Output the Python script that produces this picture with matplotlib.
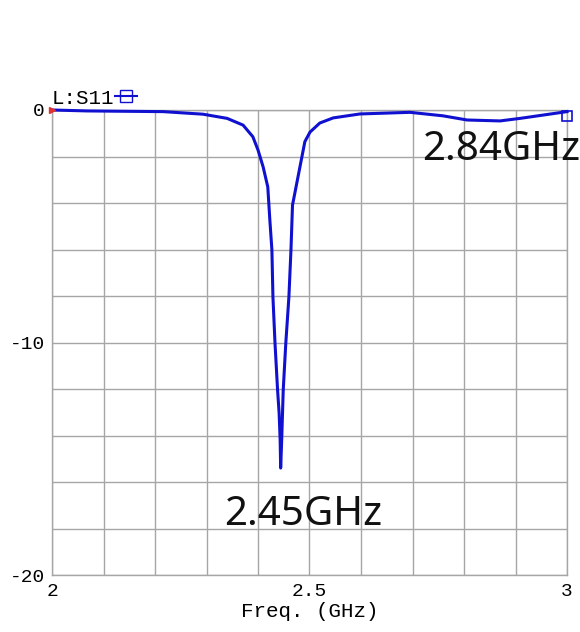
import numpy as np
import matplotlib
matplotlib.use("Agg")
import matplotlib.pyplot as plt
from matplotlib.lines import Line2D

# S11 trace (GHz, dB)
freq_ghz = [2.000, 2.068, 2.216, 2.293, 2.340, 2.371, 2.390, 2.400, 2.410, 2.419,
            2.423, 2.427, 2.429, 2.433, 2.438, 2.441, 2.443, 2.444,
            2.446, 2.449, 2.454, 2.460, 2.464, 2.467, 2.491, 2.501, 2.520,
            2.546, 2.598, 2.695, 2.759, 2.806, 2.870, 2.909, 2.953, 3.000]
s11_db = [0.00, -0.04, -0.07, -0.18, -0.36, -0.65, -1.15, -1.72, -2.45, -3.31,
          -4.73, -6.02, -8.04, -10.02, -12.04, -13.03, -14.19, -15.40,
          -14.19, -12.04, -10.02, -8.04, -6.02, -4.09, -1.36, -0.95, -0.56,
          -0.34, -0.17, -0.10, -0.25, -0.43, -0.47, -0.36, -0.22, -0.07]

x_ticks = [2, 2.5, 3]
x_tick_labels = ["2", "2.5", "3"]
y_ticks = [0, -10, -20]
y_tick_labels = ["0", "-10", "-20"]

mono = "Liberation Mono"
blue = "#1010d0"
grid_c = "#a6a6a6"

fig = plt.figure(figsize=(5.8, 6.32), dpi=100)
ax = fig.add_axes([52 / 580, 57 / 632, 515 / 580, 465 / 632])

ax.plot(freq_ghz, s11_db, color=blue, lw=2.2, zorder=3, clip_on=False)
ax.plot(freq_ghz[0], s11_db[0], marker=">", color="#e03030", ms=5, zorder=4, clip_on=False)
ax.plot(freq_ghz[-1], s11_db[-1] - 0.2, marker="s", mfc="none", mec=blue, ms=7, mew=1.2,
        zorder=4, clip_on=False)

ax.set_xlim(2, 3)
ax.set_ylim(-20, 0)
ax.set_xticks(x_ticks)
ax.set_xticklabels(x_tick_labels, family=mono, fontsize=14)
ax.set_yticks(y_ticks)
ax.set_yticklabels(y_tick_labels, family=mono, fontsize=14)
ax.set_xticks(np.arange(2, 3.001, 0.1), minor=True)
ax.set_yticks(np.arange(-20, 0.001, 2), minor=True)
ax.tick_params(which="both", length=0)
ax.tick_params(axis="x", pad=6)
ax.tick_params(axis="y", pad=5)
ax.grid(which="both", color=grid_c, lw=1)
for s in ax.spines.values():
    s.set_color(grid_c)
    s.set_linewidth(1)

ax.set_xlabel("Freq. (GHz)", family=mono, fontsize=15, labelpad=1)

# frequency notes, placed in figure pixels like the reference
fig.text(303 / 580, 1 - 515 / 632, "2.45GHz", family="Noto Sans", weight="light",
         fontsize=29, ha="center", va="center", color="#111111")
fig.text(580 / 580, 1 - 150 / 632, "2.84GHz", family="Noto Sans", weight="light",
         fontsize=29, ha="right", va="center", color="#111111")

handle = Line2D([], [], color=blue, lw=1.5, marker="s", mfc="none", mec=blue, ms=9)
ax.legend([handle], ["L:S11"], loc="lower left", bbox_to_anchor=(0.0, 1.005),
          frameon=False, markerfirst=False, handlelength=1.1, handletextpad=0.0,
          borderpad=0, borderaxespad=0, prop={"family": mono, "size": 15})

fig.savefig("out.png", dpi=100)
